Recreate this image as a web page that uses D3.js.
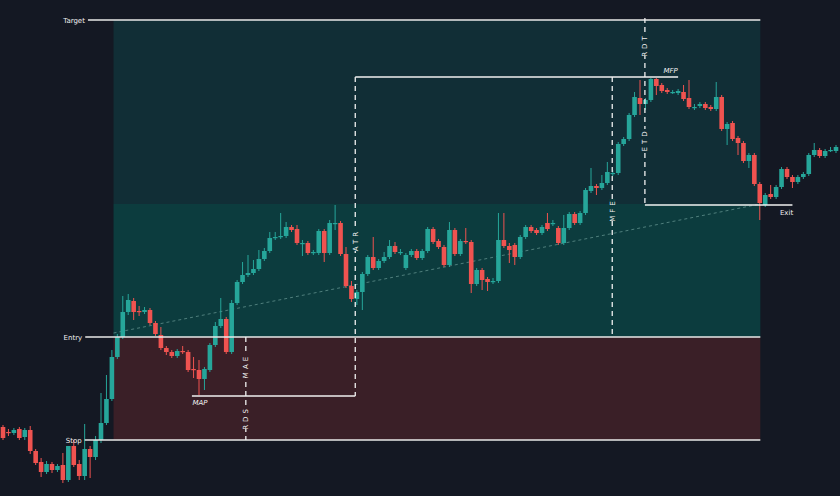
<!DOCTYPE html>
<html><head><meta charset="utf-8">
<script src="https://cdn.jsdelivr.net/npm/d3@7"></script>
<style>html,body{margin:0;padding:0;background:#141823;overflow:hidden}</style>
</head><body><svg id="c" width="840" height="496"></svg>
<script>
// OHLC values (price units)
const opens  = [69,64,63,67,59,66,45,34,24,32,26,31,16,50,32,20,47,39,56,73,97,139,159,184,195,185,184,186,173,161,148,144,140,145,144,127,126,117,126,151,170,177,144,193,214,221,223,227,237,245,258,259,260,269,267,253,253,243,243,265,243,273,273,242,210,197,204,222,239,228,235,239,250,244,228,241,245,238,245,267,255,249,231,266,242,255,254,212,226,217,215,215,256,250,251,239,259,269,266,263,273,273,268,253,268,282,273,283,305,310,308,313,323,323,352,357,381,398,392,396,417,411,406,404,403,404,398,389,390,392,389,387,399,367,373,358,353,335,341,312,291,302,299,309,327,319,314,319,322,341,346,340,346,345];
const closes = [58,63,66,58,66,45,33,24,32,26,30,16,50,31,20,47,39,56,73,97,139,159,184,196,184,184,186,173,162,148,144,140,145,144,126,126,117,127,151,170,177,144,193,214,221,223,227,237,245,258,259,260,269,266,253,253,243,244,265,243,273,273,242,210,197,204,222,239,228,235,239,250,244,244,241,245,238,245,267,254,249,231,266,242,255,254,212,226,216,214,215,256,250,246,239,259,269,265,263,269,267,273,253,268,282,273,283,306,310,308,313,324,323,352,357,381,399,392,396,417,410,405,404,404,405,397,389,389,392,388,387,399,367,372,357,353,335,341,312,293,301,299,309,327,319,314,319,322,341,346,340,345,346,349];
const highs  = [71,67,68,69,68,70,47,38,35,34,32,43,50,56,36,72,50,60,103,121,146,162,200,202,198,190,189,188,175,169,150,146,147,150,146,139,136,129,153,174,198,179,196,216,234,241,236,246,248,264,264,283,274,271,271,256,255,246,267,267,276,291,275,249,215,206,224,241,259,237,244,256,254,247,243,247,247,247,269,269,257,251,274,268,257,268,256,228,228,219,218,283,283,253,253,261,271,271,268,271,283,276,270,281,284,284,285,308,328,312,321,334,326,354,359,383,404,416,398,418,418,413,408,406,407,411,416,392,394,394,391,414,401,374,375,360,355,343,343,314,303,311,311,329,329,321,321,324,343,353,348,347,349,351];
const lows   = [56,60,61,56,56,42,31,19,22,23,24,13,14,29,16,16,18,36,53,71,95,137,157,181,176,180,182,171,160,146,141,138,138,142,124,118,101,106,124,149,168,142,142,191,212,219,221,225,235,243,256,257,258,264,251,240,241,241,241,234,241,266,240,208,194,191,186,220,226,226,233,237,242,241,226,239,236,236,243,252,247,229,229,240,240,252,203,210,206,205,212,213,248,233,231,237,257,263,261,261,265,270,251,251,266,271,271,281,303,301,306,311,320,321,350,355,379,381,386,394,401,403,402,402,401,395,387,386,388,386,385,385,365,351,355,341,333,328,310,276,289,297,297,307,317,308,312,317,320,339,338,338,344,343];
// trade levels
const levelNames = ["Target","Entry","Stop"];
const levelValues = [476,159,56];
const splitValue = 292, mapValue = 100, mfpValue = 419, exitValue = 291;
// positions expressed as bar index
const zoneStart = 20.3, zoneEnd = 139.1;
const vLabels = ["MAE","RDS","ATR","MFE","RDT","ETD"];

const W=840,H=496;
const svg=d3.select("#c");
const x=d3.scaleLinear().domain([0,opens.length-1]).range([3,836]);
const y=d3.scaleLinear().domain([0,496]).range([496,0]);
const g=svg.append("g");
g.append("rect").attr("width",W).attr("height",H).attr("fill","#141823");
// zones
g.append("rect").attr("x",x(zoneStart)).attr("width",x(zoneEnd)-x(zoneStart)).attr("y",y(levelValues[0])).attr("height",y(splitValue)-y(levelValues[0])).attr("fill","#112e36");
g.append("rect").attr("x",x(zoneStart)).attr("width",x(zoneEnd)-x(zoneStart)).attr("y",y(splitValue)).attr("height",y(levelValues[1])-y(splitValue)).attr("fill","#0c3c3e");
g.append("rect").attr("x",x(zoneStart)).attr("width",x(zoneEnd)-x(zoneStart)).attr("y",y(levelValues[1])).attr("height",y(levelValues[2])-y(levelValues[1])).attr("fill","#3a1f27");
// dotted trend line
g.append("line").attr("x1",x(zoneStart)).attr("y1",y(163)).attr("x2",x(zoneEnd)).attr("y2",y(292)).attr("stroke","#5f8f8c").attr("stroke-width",0.8).attr("stroke-dasharray","3,3");
// candles
const data=opens.map((o,i)=>({i,o,c:closes[i],h:highs[i],l:lows[i]}));
const cg=g.append("g");
data.forEach(d=>{
  const col=d.c>=d.o?"#26a69a":"#ef5350";
  cg.append("line").attr("x1",x(d.i)).attr("x2",x(d.i)).attr("y1",y(d.h)).attr("y2",y(d.l)).attr("stroke",col).attr("stroke-width",1);
  const top=y(Math.max(d.o,d.c)),bot=y(Math.min(d.o,d.c));
  cg.append("rect").attr("x",x(d.i)-2.3).attr("width",4.6).attr("y",top).attr("height",Math.max(1.2,bot-top)).attr("fill",col);
});
// level lines
const lvStart=[15.6,15.1,15.0];
levelValues.forEach((v,k)=>{
  g.append("line").attr("x1",x(lvStart[k])).attr("x2",x(zoneEnd)).attr("y1",y(v)).attr("y2",y(v)).attr("stroke","#e8e8e8").attr("stroke-width",1.3);
  g.append("text").attr("x",x(lvStart[k])-3).attr("y",y(v)+2.5).attr("text-anchor","end").attr("fill","#f0f0f0").attr("font-family","DejaVu Sans").attr("font-size",7).text(levelNames[k]);
});
const W1="#f0f0f0";
function hline(i1,i2,v){g.append("line").attr("x1",x(i1)).attr("x2",x(i2)).attr("y1",y(v)).attr("y2",y(v)).attr("stroke",W1).attr("stroke-width",1.3);}
function vdash(i,v1,v2){g.append("line").attr("x1",x(i)).attr("x2",x(i)).attr("y1",y(v1)).attr("y2",y(v2)).attr("stroke",W1).attr("stroke-width",1.3).attr("stroke-dasharray","5,4");}
function vlabel(i,v,t,bg){
  const tx=g.append("text").attr("transform",`translate(${x(i)+2.5},${y(v)}) rotate(-90)`).attr("text-anchor","middle").attr("fill","#f0f0f0").attr("font-family","DejaVu Sans").attr("font-size",7).attr("letter-spacing",3).text(t);
  g.insert("rect",()=>tx.node()).attr("x",x(i)-3).attr("y",y(v)-11).attr("width",6).attr("height",22).attr("fill",bg);
}
function lbl(px,v,t,italic){g.append("text").attr("x",px).attr("y",y(v)).attr("fill","#f0f0f0").attr("font-family","DejaVu Sans").attr("font-size",7).attr("font-style",italic?"italic":"normal").text(t);}
// MAP / MAE / RDS
hline(34.7,64.7,mapValue);
lbl(x(34.8),mapValue-9,"MAP",true);
vdash(44.6,levelValues[1],levelValues[2]);
vlabel(44.6,130,vLabels[0],"#3a1f27");
vlabel(44.6,78,vLabels[1],"#3a1f27");
// ATR
vdash(64.7,mfpValue,mapValue);
vlabel(64.7,256,vLabels[2],"#0c3c3e");
hline(64.7,124,mfpValue);
lbl(x(121.3),mfpValue+4,"MFP",true);
// MFE
vdash(111.9,mfpValue,levelValues[1]);
vlabel(111.9,286,vLabels[3],"#0c3c3e");
// RDT / ETD
vdash(117.9,478,exitValue);
vlabel(117.9,451,vLabels[4],"#112e36");
vlabel(117.9,356,vLabels[5],"#112e36");
hline(117.9,145,exitValue);
lbl(x(142.7),exitValue-10,"Exit",false);
</script></body></html>
